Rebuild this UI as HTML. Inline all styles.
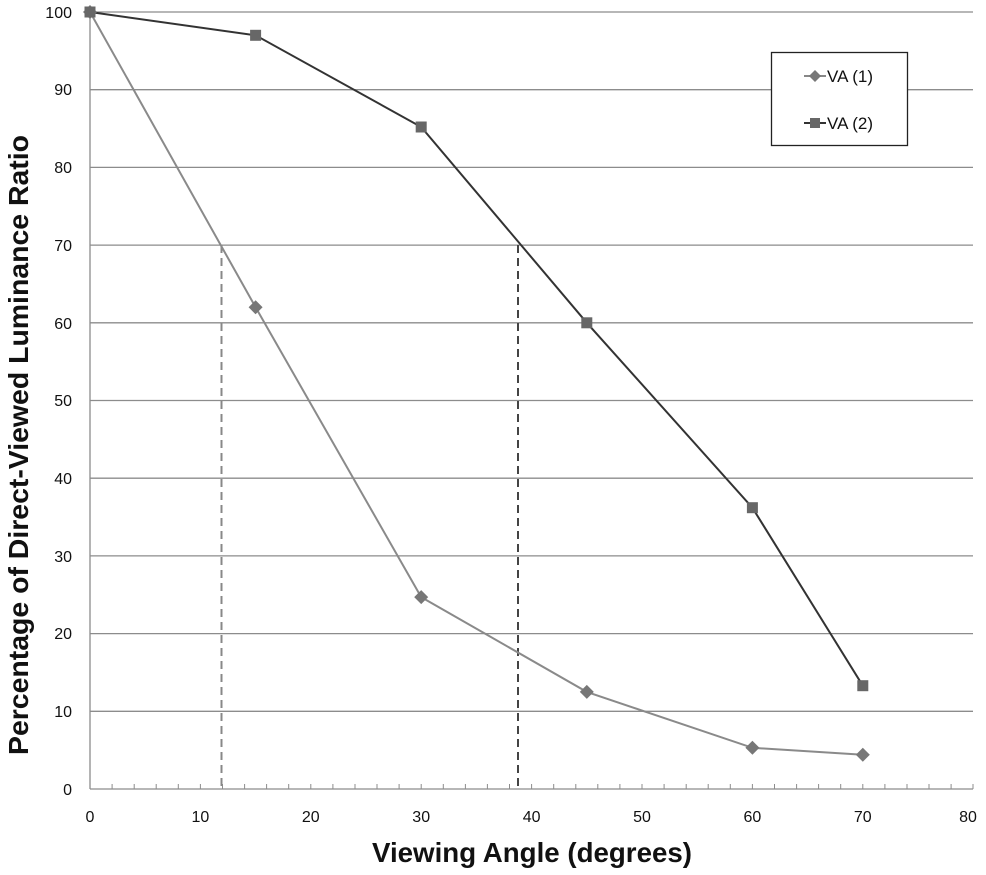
<!DOCTYPE html>
<html><head><meta charset="utf-8"><style>
html,body{margin:0;padding:0;background:#fff;}
svg{display:block;font-family:"Liberation Sans",sans-serif;}
</style></head><body>
<svg width="986" height="875" viewBox="0 0 986 875" xmlns="http://www.w3.org/2000/svg">
<g stroke="#8c8c8c" stroke-width="1.3">
<line x1="90" y1="711.3" x2="973" y2="711.3"/>
<line x1="90" y1="633.6" x2="973" y2="633.6"/>
<line x1="90" y1="555.9" x2="973" y2="555.9"/>
<line x1="90" y1="478.2" x2="973" y2="478.2"/>
<line x1="90" y1="400.5" x2="973" y2="400.5"/>
<line x1="90" y1="322.8" x2="973" y2="322.8"/>
<line x1="90" y1="245.1" x2="973" y2="245.1"/>
<line x1="90" y1="167.4" x2="973" y2="167.4"/>
<line x1="90" y1="89.7" x2="973" y2="89.7"/>
<line x1="90" y1="12" x2="973" y2="12"/>
<line x1="90" y1="12" x2="90" y2="789"/>
<line x1="90" y1="789" x2="973" y2="789"/>
</g>
<g stroke="#8c8c8c" stroke-width="1">
<path d="M112.1 789v-5M134.2 789v-5M156.2 789v-5M178.3 789v-5M200.4 789v-5M222.5 789v-5M244.6 789v-5M266.6 789v-5M288.7 789v-5M310.8 789v-5M332.9 789v-5M355 789v-5M377 789v-5M399.1 789v-5M421.2 789v-5M443.3 789v-5M465.4 789v-5M487.4 789v-5M509.5 789v-5M531.6 789v-5M553.7 789v-5M575.8 789v-5M597.8 789v-5M619.9 789v-5M642 789v-5M664.1 789v-5M686.2 789v-5M708.2 789v-5M730.3 789v-5M752.4 789v-5M774.5 789v-5M796.6 789v-5M818.6 789v-5M840.7 789v-5M862.8 789v-5M884.9 789v-5M907 789v-5M929 789v-5M951.1 789v-5M973 789v-5"/>
</g>
<line x1="221.5" y1="245" x2="221.5" y2="789" stroke="#888" stroke-width="2" stroke-dasharray="8,5"/>
<line x1="518" y1="245" x2="518" y2="789" stroke="#444" stroke-width="2" stroke-dasharray="8,5"/>
<polyline fill="none" stroke="#8a8a8a" stroke-width="2" points="90,12 255.6,307.3 421.2,597.1 586.8,691.9 752.4,747.8 862.8,754.8"/>
<polyline fill="none" stroke="#333" stroke-width="2" points="90,12 255.6,35.3 421.2,127 586.8,322.8 752.4,507.7 862.8,685.7"/>
<g fill="#777">
<path d="M90 5l7 7-7 7-7-7z"/><path d="M255.6 300.3l7 7-7 7-7-7z"/><path d="M421.2 590.1l7 7-7 7-7-7z"/><path d="M586.8 684.9l7 7-7 7-7-7z"/><path d="M752.4 740.8l7 7-7 7-7-7z"/><path d="M862.8 747.8l7 7-7 7-7-7z"/>
</g>
<g fill="#676767">
<rect x="84.5" y="6.5" width="11" height="11"/><rect x="250.1" y="29.8" width="11" height="11"/><rect x="415.7" y="121.5" width="11" height="11"/><rect x="581.3" y="317.3" width="11" height="11"/><rect x="746.9" y="502.2" width="11" height="11"/><rect x="857.3" y="680.2" width="11" height="11"/>
</g>
<rect x="771.5" y="52.5" width="136" height="93" fill="#fff" stroke="#222" stroke-width="1.3"/>
<line x1="804" y1="76" x2="826" y2="76" stroke="#888" stroke-width="2"/>
<path d="M815 70l6 6-6 6-6-6z" fill="#777"/>
<line x1="804" y1="123" x2="826" y2="123" stroke="#333" stroke-width="2"/>
<rect x="810" y="118" width="10" height="10" fill="#676767"/>
<g font-size="17" fill="#111">
<text x="827" y="82">VA (1)</text>
<text x="827" y="129">VA (2)</text>
</g>
<g font-size="16" fill="#111" text-anchor="end">
<text x="72" y="795">0</text><text x="72" y="717">10</text><text x="72" y="639">20</text><text x="72" y="562">30</text><text x="72" y="484">40</text><text x="72" y="406">50</text><text x="72" y="329">60</text><text x="72" y="251">70</text><text x="72" y="173">80</text><text x="72" y="95">90</text><text x="72" y="18">100</text>
</g>
<g font-size="16" fill="#111" text-anchor="middle">
<text x="90" y="822">0</text><text x="200.4" y="822">10</text><text x="310.8" y="822">20</text><text x="421.2" y="822">30</text><text x="531.6" y="822">40</text><text x="642" y="822">50</text><text x="752.4" y="822">60</text><text x="862.8" y="822">70</text><text x="968" y="822">80</text>
</g>
<text x="372" y="862" font-size="28" font-weight="bold" fill="#111" textLength="320" lengthAdjust="spacingAndGlyphs">Viewing Angle (degrees)</text>
<text transform="translate(28,755) rotate(-90)" font-size="28" font-weight="bold" fill="#111" textLength="620" lengthAdjust="spacingAndGlyphs">Percentage of Direct-Viewed Luminance Ratio</text>
</svg>
</body></html>
